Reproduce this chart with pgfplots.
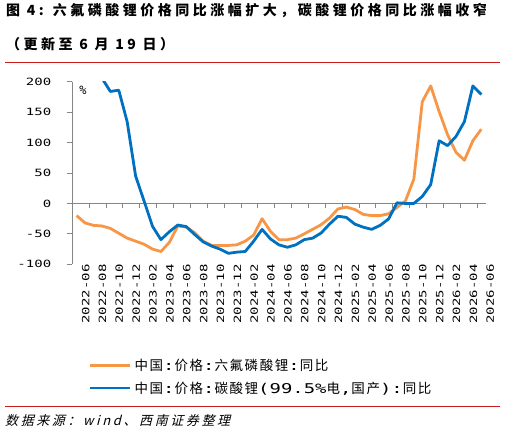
\documentclass[border=0pt]{standalone}
\usepackage{pgfplots}
\usepackage{pgfplotstable}
\pgfplotsset{compat=1.18}
\usepackage{fontspec}
\setmainfont{Liberation Sans}
\newfontfamily\cjk{Noto Sans CJK SC}[LetterSpace=12]
\newfontfamily\cjkls{Noto Sans CJK SC}[LetterSpace=25]
\newfontfamily\cjkit{Noto Sans CJK SC}[FakeSlant=0.25,LetterSpace=20]
\newfontfamily\mono{DejaVu Sans Mono}[FakeStretch=1.4]
\newfontfamily\monoplain{DejaVu Sans Mono}
\definecolor{cor}{RGB}{247,150,70}
\definecolor{cbl}{RGB}{0,112,192}
\definecolor{cred}{RGB}{200,30,30}
\definecolor{cax}{RGB}{134,134,134}

\pgfplotstableread{
i v
0 -20
1 -32
2 -36
3 -37
4 -41
5 -49
6 -57
7 -62
8 -67
9 -75
10 -79
11 -64
12 -37
13 -39
14 -48
15 -62
16 -69
17 -69
18 -69
19 -68
20 -62
21 -52
22 -25
23 -46
24 -59.5
25 -59.5
26 -57
27 -50
28 -42.5
29 -35
30 -24
31 -9
32 -6
33 -10
34 -18
35 -20
36 -20
37 -17
38 -6.5
39 4
40 40
41 167
42 193
43 151
44 113
45 84
46 71
47 103
48 122
}\orangedata

\pgfplotstableread{
i v
0 440
1 400
2 300
3 206
4 184
5 186
6 134
7 45
8 4
9 -37.5
10 -59.5
11 -46.5
12 -35.5
13 -38
14 -51
15 -63
16 -70
17 -75
18 -82
19 -80
20 -79
21 -62
22 -42.6
23 -58.4
24 -68
25 -72
26 -68
27 -59.5
28 -57
29 -48.6
30 -34
31 -21
32 -23
33 -34
34 -39
35 -42.6
36 -36
37 -25.6
38 1
39 0
40 0
41 11.5
42 31
43 103
44 95
45 110
46 134.5
47 193
48 179
}\bluedata

\begin{document}
\begin{tikzpicture}
\useasboundingbox (0,0) rectangle (506bp,-437bp);
\begin{axis}[
  at={(72.4bp,-264.3bp)}, anchor=south west,
  width=413.1bp, height=182.6bp, scale only axis,
  xmin=-0.5, xmax=48.5, ymin=-100, ymax=200,
  clip mode=individual,
  axis x line*=bottom, axis y line*=left,
  x axis line style={draw=none},
  y axis line style={draw=none},
  xtick={0,2,...,48},
  xticklabels={2022-06,2022-08,2022-10,2022-12,2023-02,2023-04,2023-06,2023-08,2023-10,2023-12,2024-02,2024-04,2024-06,2024-08,2024-10,2024-12,2025-02,2025-04,2025-06,2025-08,2025-10,2025-12,2026-02,2026-04,2026-06},
  major x tick style={draw=none},
  major y tick style={draw=none},
  major tick length=0pt,
  xticklabel style={rotate=90, anchor=east, font=\mono\fontsize{10bp}{12bp}\selectfont, inner sep=0pt, yshift=-9bp},
  ytick={-100,-50,0,50,100,150,200},
  yticklabels={-100,-50,0,50,100,150,200},
  yticklabel style={font=\mono\fontsize{10bp}{12bp}\selectfont, inner sep=0pt, anchor=east, xshift=-21bp},
  legend style={at={(axis description cs:0.039,-0.50)}, anchor=north west, draw=none, fill=none,
    font=\cjk\fontsize{13.5bp}{15bp}\selectfont, row sep=4bp, inner sep=0pt,
    nodes={inner sep=3bp}},
  legend cell align=left,
  legend image code/.code={\draw[#1, line width=2.8bp] (0bp,0bp) -- (40bp,0bp);},
]
\draw[cax, line width=1bp] (axis cs:-0.5,0) -- (axis cs:48.5,0);
\draw[cax, line width=1bp] (axis cs:-0.5,-100) -- (axis cs:-0.5,200);
\pgfplotsinvokeforeach{1.5,3.5,...,47.5}{\draw[cax, line width=1bp] (axis cs:#1,0) -- ([yshift=-5bp]axis cs:#1,0);}
\pgfplotsinvokeforeach{-100,-50,0,50,100,150,200}{\draw[cax, line width=1bp] (axis cs:-0.5,#1) -- ([xshift=-5bp]axis cs:-0.5,#1);}
\addplot[cor, line width=2.8bp, line join=round] table[x=i,y=v] {\orangedata};
\addlegendentry{中国{\mono:}价格{\mono:}六氟磷酸锂{\mono:}同比}
\addplot[cbl, line width=2.8bp, line join=round] table[x=i,y=v] {\bluedata};
\addlegendentry{中国{\mono:}价格{\mono:}碳酸锂{\mono(99.5\%}电{\mono,}国产{\mono):}同比}
\end{axis}
\node[anchor=center, font=\monoplain\fontsize{12bp}{14bp}\selectfont] at (83bp,-90bp) {\%};
\node[anchor=west, inner sep=0pt, font=\cjkls\bfseries\fontsize{14bp}{16bp}\selectfont] at (6bp,-10bp) {图 4: 六氟磷酸锂价格同比涨幅扩大，碳酸锂价格同比涨幅收窄};
\node[anchor=west, inner sep=0pt, font=\cjkls\bfseries\fontsize{14bp}{16bp}\selectfont] at (6bp,-44bp) {（更新至 6 月 19 日）};
\draw[cred, line width=1.5bp] (5bp,-62.5bp) -- (500bp,-62.5bp);
\draw[cred, line width=1.5bp] (5bp,-406.7bp) -- (500bp,-406.7bp);
\node[anchor=west, inner sep=0pt, font=\cjkit\fontsize{13bp}{15bp}\selectfont] at (5bp,-421bp) {数据来源：wind、西南证券整理};
\end{tikzpicture}
\end{document}
